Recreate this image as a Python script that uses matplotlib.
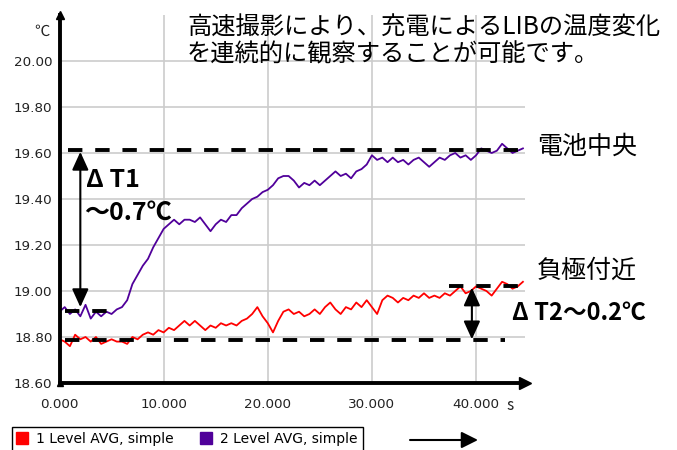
import matplotlib.pyplot as plt
import numpy as np
from matplotlib.lines import Line2D

plt.rcParams['font.family'] = ['DejaVu Sans']
JP = ['Noto Sans CJK JP', 'DejaVu Sans']

# temperature readings, one value every 0.5 s
dt = 0.5
center = [18.91, 18.93, 18.90, 18.92, 18.89, 18.94, 18.88, 18.91, 18.89, 18.91,
          18.90, 18.92, 18.93, 18.96, 19.03, 19.07, 19.11, 19.14, 19.19, 19.23,
          19.27, 19.29, 19.31, 19.29, 19.31, 19.31, 19.30, 19.32, 19.29, 19.26,
          19.29, 19.31, 19.30, 19.33, 19.33, 19.36, 19.38, 19.40, 19.41, 19.43,
          19.44, 19.46, 19.49, 19.50, 19.50, 19.48, 19.45, 19.47, 19.46, 19.48,
          19.46, 19.48, 19.50, 19.52, 19.50, 19.51, 19.49, 19.52, 19.53, 19.55,
          19.59, 19.57, 19.58, 19.56, 19.58, 19.56, 19.57, 19.55, 19.57, 19.58,
          19.56, 19.54, 19.56, 19.58, 19.57, 19.59, 19.60, 19.58, 19.59, 19.57,
          19.59, 19.62, 19.61, 19.60, 19.61, 19.64, 19.62, 19.60, 19.61, 19.62]
anode = [18.79, 18.78, 18.76, 18.81, 18.79, 18.80, 18.78, 18.80, 18.77, 18.78,
         18.79, 18.78, 18.78, 18.77, 18.80, 18.79, 18.81, 18.82, 18.81, 18.83,
         18.82, 18.84, 18.83, 18.85, 18.87, 18.85, 18.87, 18.85, 18.83, 18.85,
         18.84, 18.86, 18.85, 18.86, 18.85, 18.87, 18.88, 18.90, 18.93, 18.89,
         18.86, 18.82, 18.87, 18.91, 18.92, 18.90, 18.91, 18.89, 18.90, 18.92,
         18.90, 18.93, 18.95, 18.92, 18.90, 18.93, 18.92, 18.95, 18.93, 18.96,
         18.93, 18.90, 18.96, 18.98, 18.97, 18.95, 18.97, 18.96, 18.98, 18.97,
         18.99, 18.97, 18.98, 18.97, 18.99, 18.98, 19.00, 19.02, 18.99, 19.00,
         19.02, 19.01, 19.00, 18.98, 19.01, 19.04, 19.03, 19.01, 19.02, 19.04]
t = np.arange(len(center)) * dt

y_ticks = [18.6, 18.8, 19.0, 19.2, 19.4, 19.6, 19.8, 20.0]
x_ticks = [0, 10, 20, 30, 40]

# dashed reference levels: (value, start, end)
levels = [(19.613, 0.8, 44.7), (18.914, 0.5, 4.7),
          (18.787, 0.5, 42.8), (19.02, 37.4, 44.5)]

fig = plt.figure(figsize=(6.77, 4.5), dpi=100)
ax = fig.add_axes([59.5 / 677, 1 - 383 / 450, (525 - 59.5) / 677, (383 - 15) / 450])
ax.set_xlim(0, 44.7)
ax.set_ylim(18.6, 20.2)

ax.plot(t, anode, color='#ff0000', lw=1.3)
ax.plot(t, center, color='#50009a', lw=1.3)

for v, a, b in levels:
    ax.plot([a, b], [v, v], color='k', lw=2.8, ls=(0, (3.7, 3.3)))

arr = dict(arrowstyle='<|-|>,head_length=0.55,head_width=0.25', color='k',
           lw=1.5, mutation_scale=20, shrinkA=0, shrinkB=0)
ax.annotate('', xy=(2.0, 18.93), xytext=(2.0, 19.605), arrowprops=arr)
ax.annotate('', xy=(39.6, 18.79), xytext=(39.6, 19.015), arrowprops=arr)

ax.set_xticks(x_ticks)
ax.set_xticklabels(['%.3f' % x for x in x_ticks])
ax.set_yticks(y_ticks)
ax.set_yticklabels(['%.2f' % y for y in y_ticks])
ax.tick_params(length=0, labelsize=9.7, colors='#222222')
ax.tick_params(axis='x', pad=11)
ax.tick_params(axis='y', pad=5)
ax.grid(True, color='#cccccc', lw=1.2)
ax.set_axisbelow(True)

for s in ['top', 'right']:
    ax.spines[s].set_visible(False)
for s in ['left', 'bottom']:
    ax.spines[s].set_linewidth(2.8)
ax.plot([0], [1], marker='^', ms=6, color='k', transform=ax.transAxes, clip_on=False)
ax.plot([1], [0], marker='>', ms=9, color='k', transform=ax.transAxes, clip_on=False)
ax.plot([0], [0], marker='^', ms=5, color='k', transform=ax.transAxes, clip_on=False)

W, H = 677, 450
def ftext(x, y, s, **kw):
    fig.text(x / W, 1 - y / H, s, va='center', family=JP, **kw)

ftext(42, 31, '℃', fontsize=11, ha='center', color='#222222')
ftext(510, 406, 's', fontsize=11, ha='center', color='#222222')
ftext(187, 28, '高速撮影により、充電によるLIBの温度変化', fontsize=17.5)
ftext(187, 54, 'を連続的に観察することが可能です。', fontsize=17.5)
ftext(537, 147, '電池中央', fontsize=18)
ftext(537, 271, '負極付近', fontsize=18)
ftext(86, 180, 'Δ T1', fontsize=18, weight='bold')
ftext(84, 213, '～0.7℃', fontsize=18, weight='bold')
ftext(512, 313, 'Δ T2～0.2℃', fontsize=17, weight='bold')

handles = [Line2D([], [], color='#ff0000', marker='s', ls='none', ms=8),
           Line2D([], [], color='#50009a', marker='s', ls='none', ms=8)]
leg = fig.legend(handles, ['1 Level AVG, simple', '2 Level AVG, simple'],
                 loc='upper left', bbox_to_anchor=(12 / W, 1 - 427 / H),
                 ncol=2, fontsize=10, borderaxespad=0, borderpad=0.35,
                 handlelength=0.72, handletextpad=0.65, columnspacing=2.0,
                 fancybox=False, framealpha=1, edgecolor='k')
leg.get_frame().set_linewidth(1)

# arrow next to the legend
ax.annotate('', xy=(478 / W, 1 - 440 / H), xytext=(410 / W, 1 - 440 / H),
            xycoords='figure fraction', textcoords='figure fraction',
            arrowprops=dict(arrowstyle='-|>,head_length=0.5,head_width=0.25',
                            color='k', lw=1.5, mutation_scale=20,
                            shrinkA=0, shrinkB=0), annotation_clip=False)

fig.savefig('out.png', dpi=100)
